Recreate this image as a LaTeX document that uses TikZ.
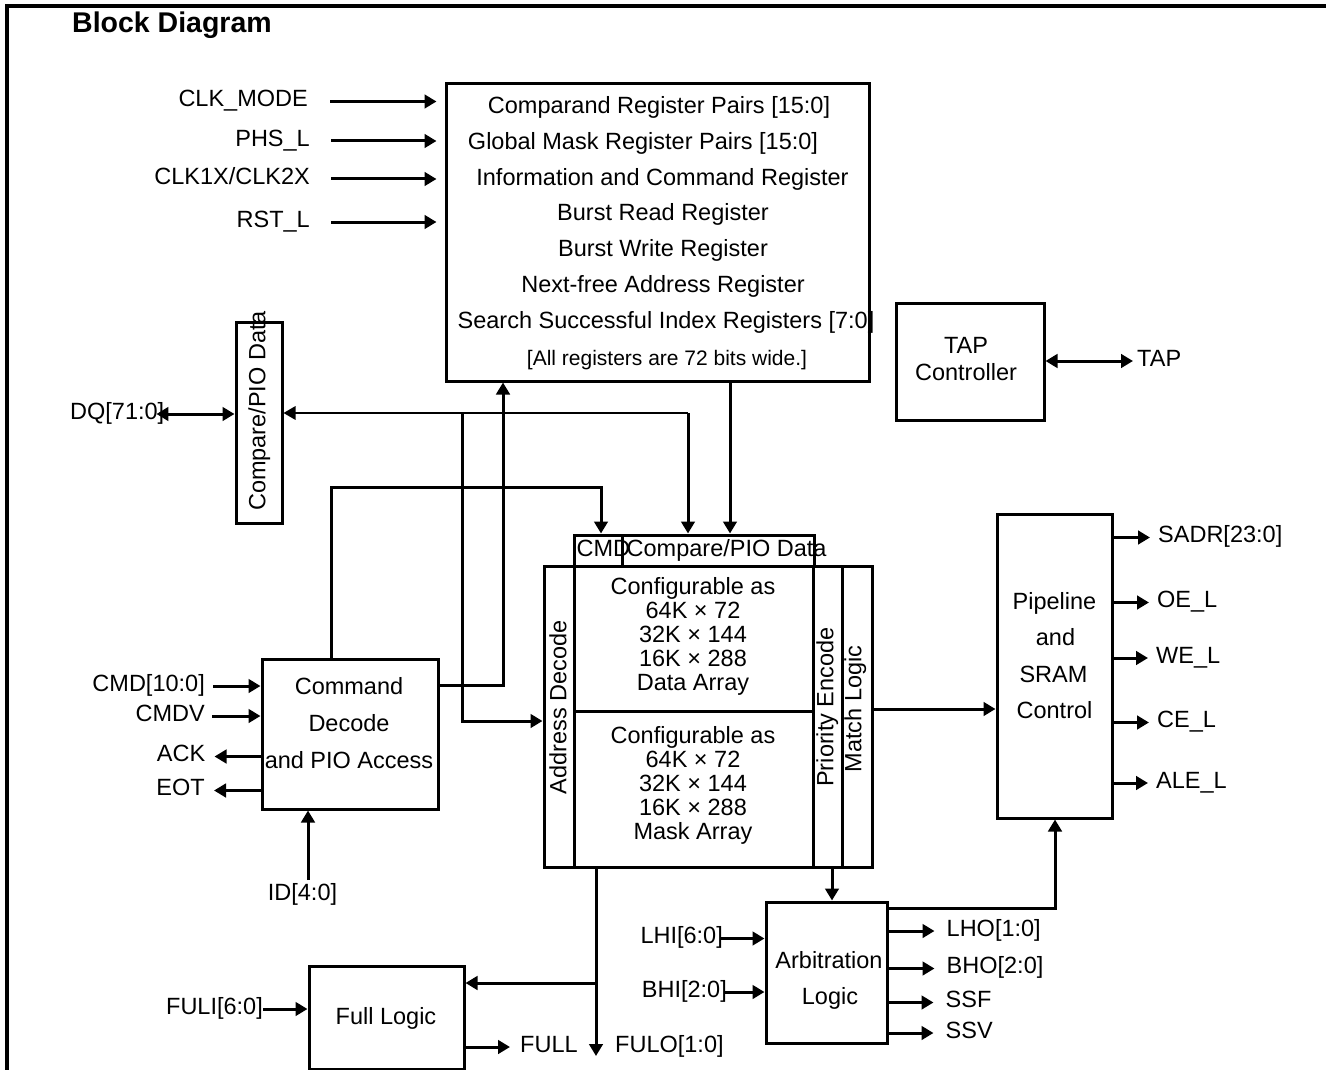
\documentclass[tikz,border=0pt]{standalone}
\usepackage{fontspec}
\setmainfont{Liberation Sans}
\usetikzlibrary{arrows.meta}
\newcommand\dgfont{\fontsize{23.5}{24}\selectfont}
\newcommand\dgsmall{\fontsize{21}{22}\selectfont}
\begin{document}
\begin{tikzpicture}[x=1pt,y=-1pt,
  box/.style={draw,line width=3pt,inner sep=0pt},
  lbl/.style={font=\dgfont,inner sep=0pt,text height=16.8pt,text depth=6pt},
  arr/.style={line width=3pt,-{Triangle[length=12pt,width=13.5pt]}},
  biarr/.style={line width=3pt,{Triangle[length=12pt,width=13.5pt]}-{Triangle[length=12pt,width=13.5pt]}},
  thinarr/.style={line width=1.7pt,-{Triangle[length=12pt,width=13.5pt]}},
  plain/.style={line width=3pt}]
\useasboundingbox (0,0) rectangle (1326,1070);
% frame
\draw[line width=3.2pt] (1326,6) -- (7,6) -- (7,1070);
\node[font=\fontsize{28.5}{30}\selectfont\bfseries,anchor=base west,inner sep=0pt] (title) at (72,33) {Block Diagram};

% boxes
\node[box,minimum width=423pt,minimum height=297pt] (reg) at (657.5,232.5) {};
\node[box,minimum width=46pt,minimum height=201pt] (cpl) at (259,422.5) {};
\node[box,minimum width=148pt,minimum height=117pt] (tap) at (970,361.5) {};
\node[box,minimum width=48pt,minimum height=31pt] (cmdb) at (598,550.5) {};
\node[box,minimum width=192pt,minimum height=31pt] (cmpb) at (718,550.5) {};
\node[box,minimum width=30pt,minimum height=301pt] (addr) at (559,716.5) {};
\node[box,minimum width=239pt,minimum height=145pt] (darr) at (693.5,638.5) {};
\node[box,minimum width=239pt,minimum height=156pt] (marr) at (693.5,789) {};
\node[box,minimum width=29pt,minimum height=301pt] (prio) at (827.5,716.5) {};
\node[box,minimum width=30pt,minimum height=301pt] (match) at (857,716.5) {};
\node[box,minimum width=115pt,minimum height=304pt] (pipe) at (1054.5,666) {};
\node[box,minimum width=176pt,minimum height=150pt] (cmd) at (350,734) {};
\node[box,minimum width=121pt,minimum height=141pt] (arb) at (826.5,972.5) {};
\node[box,minimum width=155pt,minimum height=103pt] (full) at (386.5,1017.5) {};

% register box text
\node[lbl] (r1) at (659,108) {Comparand Register Pairs [15:0]};
\node[lbl] (r2) at (643,144) {Global Mask Register Pairs [15:0]};
\node[lbl] (r3) at (662.5,180) {Information and Command Register};
\node[lbl] (r4) at (663,215) {Burst Read Register};
\node[lbl] (r5) at (663,251) {Burst Write Register};
\node[lbl] (r6) at (663,287) {Next-free Address Register};
\node[lbl] (r7) at (666,323) {Search Successful Index Registers [7:0]};
\node[lbl,font=\dgsmall] (r8) at (667,360) {[All registers are 72 bits wide.]};

% other box texts
\node[lbl,rotate=90] (tcpl) at (260,411) {Compare/PIO Data};
\node[lbl] (ttap1) at (966,348) {TAP};
\node[lbl] (ttap2) at (966,375) {Controller};
\node[lbl,anchor=west] (tcmdb) at (576.5,551) {CMD};
\node[lbl,anchor=west] (tcmpb) at (626.5,551) {Compare/PIO Data};
\node[lbl,rotate=90] (taddr) at (561,707.5) {Address Decode};
\node[lbl,rotate=90] (tprio) at (828,707) {Priority Encode};
\node[lbl,rotate=90] (tmatch) at (856,709) {Match Logic};
\foreach \t [count=\i] in {Configurable as,64K × 72,32K × 144,16K × 288,Data Array}
  \node[lbl] (td\i) at (693,564.6+24*\i) {\t};
\foreach \t [count=\i] in {Configurable as,64K × 72,32K × 144,16K × 288,Mask Array}
  \node[lbl] (tm\i) at (693,714+24*\i) {\t};
\node[lbl] (tp1) at (1054.5,604) {Pipeline};
\node[lbl] (tp2) at (1055.5,640.5) {and};
\node[lbl] (tp3) at (1053.5,677) {SRAM};
\node[lbl] (tp4) at (1054.5,713.5) {Control};
\node[lbl] (tc1) at (349,689.5) {Command};
\node[lbl] (tc2) at (349,726) {Decode};
\node[lbl] (tc3) at (349,763) {and PIO Access};
\node[lbl] (ta1) at (829,963) {Arbitration};
\node[lbl] (ta2) at (830,999.5) {Logic};
\node[lbl] (tf) at (386,1019.5) {Full Logic};

% signal labels
\node[lbl,anchor=east] (Lclk) at (308,101.5) {CLK\_MODE};
\node[lbl,anchor=east] (Lphs) at (310,141) {PHS\_L};
\node[lbl,anchor=east] (Lclkx) at (310,179) {CLK1X/CLK2X};
\node[lbl,anchor=east] (Lrst) at (310,222) {RST\_L};
\node[lbl,anchor=west] (Ldq) at (70,414) {DQ[71:0]};
\node[lbl,anchor=west] (Ltap) at (1137,361) {TAP};
\node[lbl,anchor=west] (Lsadr) at (1158,537.5) {SADR[23:0]};
\node[lbl,anchor=west] (Loe) at (1157,602.5) {OE\_L};
\node[lbl,anchor=west] (Lwe) at (1156,658) {WE\_L};
\node[lbl,anchor=west] (Lce) at (1157,722.5) {CE\_L};
\node[lbl,anchor=west] (Lale) at (1156,783) {ALE\_L};
\node[lbl,anchor=east] (Lcmd) at (205,686) {CMD[10:0]};
\node[lbl,anchor=east] (Lcmdv) at (205,716) {CMDV};
\node[lbl,anchor=east] (Lack) at (205.5,756.5) {ACK};
\node[lbl,anchor=east] (Leot) at (205,790.5) {EOT};
\node[lbl] (Lid) at (302.5,895.5) {ID[4:0]};
\node[lbl,anchor=east] (Lfuli) at (263,1009) {FULI[6:0]};
\node[lbl,anchor=west] (Lfull) at (520,1047) {FULL};
\node[lbl,anchor=west] (Lfulo) at (615,1047) {FULO[1:0]};
\node[lbl,anchor=east] (Llhi) at (723,938.5) {LHI[6:0]};
\node[lbl,anchor=east] (Lbhi) at (727,992) {BHI[2:0]};
\node[lbl,anchor=west] (Llho) at (946.5,931) {LHO[1:0]};
\node[lbl,anchor=west] (Lbho) at (946.5,968.5) {BHO[2:0]};
\node[lbl,anchor=west] (Lssf) at (945.5,1002.5) {SSF};
\node[lbl,anchor=west] (Lssv) at (945.5,1033) {SSV};

% helper coordinates
\coordinate (j1) at (688,413);
\coordinate (j2) at (462,413);
\coordinate (j3) at (462,721);
\coordinate (c1) at (503,685);
\coordinate (c2) at (331,487);
\coordinate (c3) at (601,487);
\coordinate (c4) at (730,450);
\coordinate (c5) at (900,709);
\coordinate (c6) at (1055,908);
\coordinate (c7) at (832,880);
\coordinate (c8) at (596,983);
\coordinate (fend) at (596,1056);
\coordinate (c9) at (308,880);

% clock inputs
\draw[arr] ([xshift=22pt]Lclk.east) -- ([xshift=-8pt]reg.west |- Lclk.east);
\draw[arr] ([xshift=21pt]Lphs.east) -- ([xshift=-8pt]reg.west |- Lphs.east);
\draw[arr] ([xshift=21pt]Lclkx.east) -- ([xshift=-8pt]reg.west |- Lclkx.east);
\draw[arr] ([xshift=21pt]Lrst.east) -- ([xshift=-8pt]reg.west |- Lrst.east);

% DQ
\draw[biarr] ([xshift=-8pt]Ldq.east) -- (cpl.west |- Ldq.east);
\draw[thinarr] (j1) -- (cpl.east |- j1);
\draw[arr] (j1) -- (j1 |- cmpb.north);
\draw[arr] (j2) -- (j3) -- (addr.west |- j3);

% command decode connections
\draw[arr] (cmd.east |- c1) -- (c1) -- (c1 |- reg.south);
\draw[arr] (cmd.north -| c2) -- (c2) -- (c3) -- (c3 |- cmdb.north);
\draw[arr] (reg.south -| c4) -- (cmpb.north -| c4);
\draw[arr] ([xshift=8pt]Lcmd.east) -- (cmd.west |- Lcmd.east);
\draw[arr] ([xshift=7pt]Lcmdv.east) -- (cmd.west |- Lcmdv.east);
\draw[arr] (cmd.west |- Lack.east) -- ([xshift=9pt]Lack.east);
\draw[arr] (cmd.west |- Leot.east) -- ([xshift=9pt]Leot.east);
\draw[arr] (c9) -- (c9 |- cmd.south);

% main array to others
\draw[arr] (match.east |- c5) -- (pipe.west |- c5);
\draw[arr] (arb.east |- c6) -- (c6) -- (c6 |- pipe.south);
\draw[arr] (prio.south -| c7) -- (arb.north -| c7);
\draw[arr] (marr.south -| c8) -- (fend);
\draw[arr] (c8) -- (full.east |- c8);
\draw[arr] (full.east |- Lfull.west) -- ([xshift=-10pt]Lfull.west);
\draw[arr] (Lfuli.east) -- (full.west |- Lfuli.east);

% TAP
\draw[biarr] (tap.east |- Ltap.west) -- ([xshift=-4pt]Ltap.west);

% pipeline outputs
\foreach \n in {Lsadr,Loe,Lwe,Lce,Lale}
  \draw[arr] (pipe.east |- \n.west) -- ([xshift=-8pt]\n.west);

% arbitration
\draw[arr] ([xshift=-3pt]Llhi.east) -- (arb.west |- Llhi.east);
\draw[arr] ([xshift=-3pt]Lbhi.east) -- (arb.west |- Lbhi.east);
\foreach \n in {Llho,Lbho,Lssf,Lssv}
  \draw[arr] (arb.east |- \n.west) -- ([xshift=-12pt]\n.west);
\end{tikzpicture}
\end{document}
